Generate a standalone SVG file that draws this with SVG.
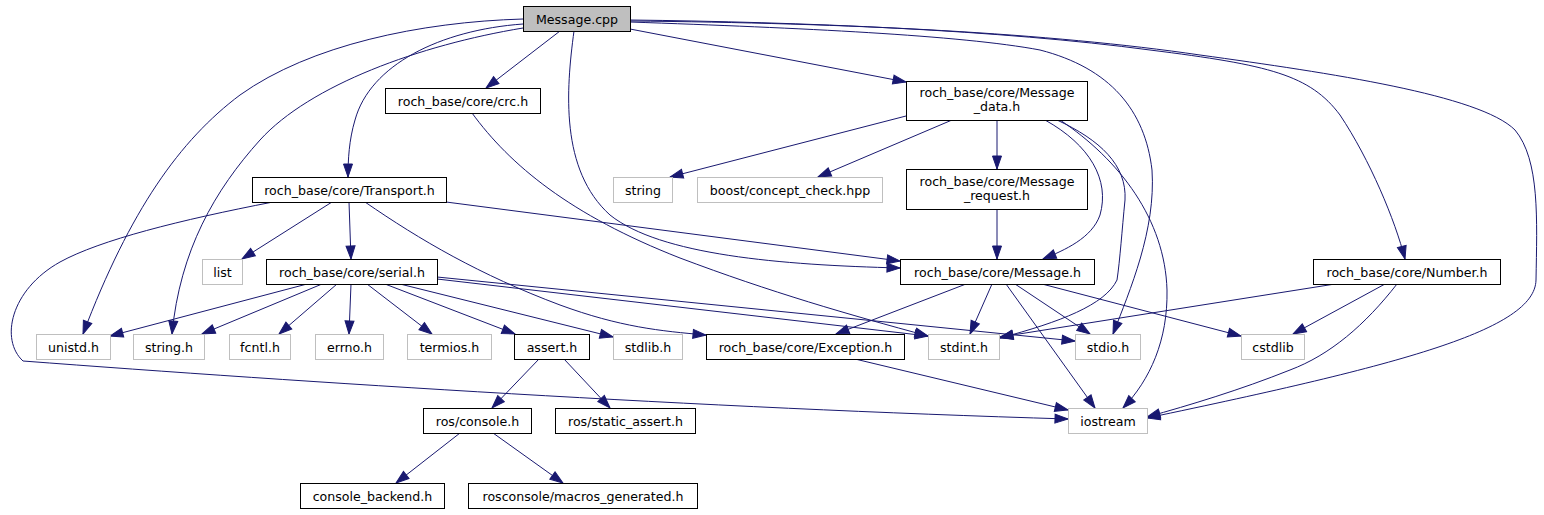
<svg xmlns="http://www.w3.org/2000/svg" width="1544" height="515" viewBox="0 0 1544 515">
<style>
.n rect{fill:#fff;stroke:#000;stroke-width:1}
.x rect{fill:#fff;stroke:#bfbfbf;stroke-width:1}
.root rect{fill:#bfbfbf;stroke:#000;stroke-width:1}
text{font-family:"DejaVu Sans","Liberation Sans",sans-serif;font-size:12.6px;fill:#000;text-anchor:middle}
#edges path{fill:none;stroke:#191970;stroke-width:1;marker-end:url(#arr)}
</style>
<defs>
<marker id="arr" markerUnits="userSpaceOnUse" markerWidth="14" markerHeight="10" refX="13" refY="4.5" orient="auto" overflow="visible">
<path d="M0,0 L13,4.5 L0,9 z" fill="#191970" stroke="#191970" stroke-width="1"/>
</marker>
</defs>
<rect width="1544" height="515" fill="#fff"/>
<g id="edges">
<path d="M523,19 C420,22 310,45 240,95 C180,140 130,210 83,334"/>
<path d="M523,28 C420,45 310,85 260,140 C215,190 180,250 172,334"/>
<path d="M523,24 C440,30 370,65 355,120 C349,140 348,160 348,177"/>
<path d="M560,31 L486,88"/>
<path d="M630,29 L906,82"/>
<path d="M574,31 C566,90 560,170 610,215 C660,255 780,265 900,268"/>
<path d="M630,22 C800,28 960,35 1040,50 C1110,68 1145,110 1152,170 C1156,230 1130,290 1113,334"/>
<path d="M630,20 C800,22 1000,30 1150,50 C1270,65 1310,75 1340,115 C1370,160 1395,220 1405,259"/>
<path d="M630,21 C850,23 1050,33 1200,55 C1330,73 1480,95 1515,130 C1540,160 1537,220 1536,280 C1535,330 1400,365 1147,418"/>
<path d="M906,116 L670,177"/>
<path d="M952,120 L818,177"/>
<path d="M997,120 L997,169"/>
<path d="M1045,120 C1090,145 1110,180 1100,215 C1092,238 1065,250 1043,259"/>
<path d="M1057,120 C1100,140 1127,165 1125,200 C1122,230 1120,260 1117,280 C1105,305 1060,322 1000,338"/>
<path d="M1060,120 C1120,160 1165,220 1167,290 C1168,340 1150,380 1123,408"/>
<path d="M997,209 L997,259"/>
<path d="M332,202 L242,259"/>
<path d="M349,202 L351,259"/>
<path d="M446,202 L900,261"/>
<path d="M365,202 C420,240 480,275 560,305 C620,327 660,331 706,335"/>
<path d="M273,202 C180,220 100,240 60,262 C10,290 0,340 23,361 C300,382 700,408 1068,419"/>
<path d="M307,284 L110,336"/>
<path d="M322,284 L202,334"/>
<path d="M337,284 L279,334"/>
<path d="M351,284 L349,334"/>
<path d="M367,284 L432,334"/>
<path d="M385,284 L515,334"/>
<path d="M400,284 L613,337"/>
<path d="M437,279 L928,336"/>
<path d="M437,277 L1075,341"/>
<path d="M472,113 C510,165 570,215 680,258 C770,292 850,315 928,336"/>
<path d="M966,284 L836,334"/>
<path d="M992,284 L970,334"/>
<path d="M1015,284 L1090,334"/>
<path d="M1006,284 L1095,408"/>
<path d="M1042,284 L1241,336"/>
<path d="M1335,284 L1000,337"/>
<path d="M1385,284 L1293,334"/>
<path d="M1397,284 C1365,325 1330,355 1290,370 C1240,390 1190,405 1147,417"/>
<path d="M855,359 L1068,410"/>
<path d="M539,359 L492,408"/>
<path d="M564,359 L610,408"/>
<path d="M460,433 L396,483"/>
<path d="M493,433 L563,483"/>
</g>
<g id="n_message_cpp" class="root"><rect x="523.5" y="6.5" width="107" height="25"/><text x="577" y="23.5">Message.cpp</text></g>
<g id="n_crc" class="n"><rect x="385.5" y="88.5" width="155" height="25"/><text x="463" y="105.5">roch_base/core/crc.h</text></g>
<g id="n_message_data" class="n"><rect x="906.5" y="81.5" width="181" height="39"/><text x="997" y="97">roch_base/core/Message</text><text x="997" y="111">_data.h</text></g>
<g id="n_transport" class="n"><rect x="252.5" y="177.5" width="194" height="25"/><text x="349.5" y="194.5">roch_base/core/Transport.h</text></g>
<g id="n_string" class="x"><rect x="613.5" y="177.5" width="59" height="25"/><text x="643" y="194.5">string</text></g>
<g id="n_boost" class="x"><rect x="697.5" y="177.5" width="185" height="25"/><text x="790" y="194.5">boost/concept_check.hpp</text></g>
<g id="n_message_request" class="n"><rect x="906.5" y="169.5" width="181" height="40"/><text x="997" y="185.5">roch_base/core/Message</text><text x="997" y="199.5">_request.h</text></g>
<g id="n_list" class="x"><rect x="202.5" y="259.5" width="40" height="25"/><text x="222.5" y="276.5">list</text></g>
<g id="n_serial" class="n"><rect x="266.5" y="259.5" width="171" height="25"/><text x="352" y="276.5">roch_base/core/serial.h</text></g>
<g id="n_message_h" class="n"><rect x="900.5" y="259.5" width="194" height="25"/><text x="997.5" y="276.5">roch_base/core/Message.h</text></g>
<g id="n_number" class="n"><rect x="1313.5" y="259.5" width="187" height="25"/><text x="1407" y="276.5">roch_base/core/Number.h</text></g>
<g id="n_unistd" class="x"><rect x="36.5" y="334.5" width="74" height="25"/><text x="73.5" y="351.5">unistd.h</text></g>
<g id="n_string_h" class="x"><rect x="133.5" y="334.5" width="71" height="25"/><text x="169" y="351.5">string.h</text></g>
<g id="n_fcntl" class="x"><rect x="229.5" y="334.5" width="61" height="25"/><text x="260" y="351.5">fcntl.h</text></g>
<g id="n_errno" class="x"><rect x="315.5" y="334.5" width="68" height="25"/><text x="349.5" y="351.5">errno.h</text></g>
<g id="n_termios" class="x"><rect x="407.5" y="334.5" width="84" height="25"/><text x="449.5" y="351.5">termios.h</text></g>
<g id="n_assert" class="n"><rect x="514.5" y="334.5" width="75" height="25"/><text x="552" y="351.5">assert.h</text></g>
<g id="n_stdlib" class="x"><rect x="613.5" y="334.5" width="69" height="25"/><text x="648" y="351.5">stdlib.h</text></g>
<g id="n_exception" class="n"><rect x="706.5" y="334.5" width="198" height="25"/><text x="805.5" y="351.5">roch_base/core/Exception.h</text></g>
<g id="n_stdint" class="x"><rect x="928.5" y="334.5" width="71" height="25"/><text x="964" y="351.5">stdint.h</text></g>
<g id="n_stdio" class="x"><rect x="1075.5" y="334.5" width="65" height="25"/><text x="1108" y="351.5">stdio.h</text></g>
<g id="n_cstdlib" class="x"><rect x="1241.5" y="334.5" width="63" height="25"/><text x="1273" y="351.5">cstdlib</text></g>
<g id="n_ros_console" class="n"><rect x="423.5" y="408.5" width="108" height="25"/><text x="477.5" y="425.5">ros/console.h</text></g>
<g id="n_static_assert" class="n"><rect x="555.5" y="408.5" width="140" height="25"/><text x="625.5" y="425.5">ros/static_assert.h</text></g>
<g id="n_iostream" class="x"><rect x="1068.5" y="408.5" width="79" height="25"/><text x="1108" y="425.5">iostream</text></g>
<g id="n_console_backend" class="n"><rect x="300.5" y="483.5" width="144" height="25"/><text x="372.5" y="500.5">console_backend.h</text></g>
<g id="n_macros_generated" class="n"><rect x="468.5" y="483.5" width="229" height="25"/><text x="583" y="500.5">rosconsole/macros_generated.h</text></g>
</svg>
